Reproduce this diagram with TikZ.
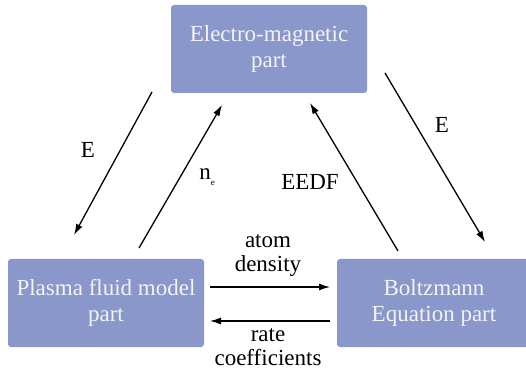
\documentclass[tikz,border=0pt]{standalone}
\usepackage{fontspec}
\setmainfont{Liberation Serif}
\usetikzlibrary{arrows.meta,positioning}
\definecolor{partblue}{RGB}{137,151,203}
\definecolor{parttext}{RGB}{243,243,248}

\begin{document}
\begin{tikzpicture}[
    x=1pt, y=1pt,
    part/.style={fill=partblue,rounded corners=3pt,text=parttext,align=center,
      minimum height=88pt,inner sep=0pt,font=\fontsize{23}{26}\selectfont},
    lbl/.style={align=center,inner sep=0pt,font=\fontsize{23}{24}\selectfont},
    flow/.style={-{Latex[length=11pt,width=7pt]},line width=1.3pt},
]
\useasboundingbox (0,0) rectangle (526,374);

% Parts
\node[part,minimum width=196pt] (em) at (269,325) {Electro-magnetic\\part};
\node[part,minimum width=196pt] (plasma) at (106,71) {Plasma fluid model\\part};
\node[part,minimum width=194pt] (boltz) at (434,71) {Boltzmann\\Equation part};

% Arrow ends
\coordinate (eLa) at (152,282);
\coordinate (eLb) at (74,139);
\coordinate (neA) at (139,126);
\coordinate (neB) at (222,269);
\coordinate (edA) at (398,123);
\coordinate (edB) at (310,271);
\coordinate (eRa) at (385,301);
\coordinate (eRb) at (485,132);
\coordinate (adA) at (210,87);
\coordinate (adB) at (330,87);
\coordinate (rcA) at (330,53);
\coordinate (rcB) at (210,53);

% Couplings
\draw[flow] (eLa) -- (eLb);
\draw[flow] (neA) -- (neB);
\draw[flow] (edA) -- (edB);
\draw[flow] (eRa) -- (eRb);
\draw[flow] (adA) -- (adB);
\draw[flow] (rcA) -- (rcB);

\node[lbl] (eL) at (88,224) {E};
\node[lbl] (ne) at (207,197) {n\raisebox{-6pt}{\fontsize{9}{9}\selectfont e}};
\node[lbl] (eedf) at (310,192) {EEDF};
\node[lbl] (eR) at (442,249) {E};
\node[lbl] (atom) at (268,118) {atom\\density};
\node[lbl] (rate) at (268,27) {rate\\coefficients};
\end{tikzpicture}
\end{document}
